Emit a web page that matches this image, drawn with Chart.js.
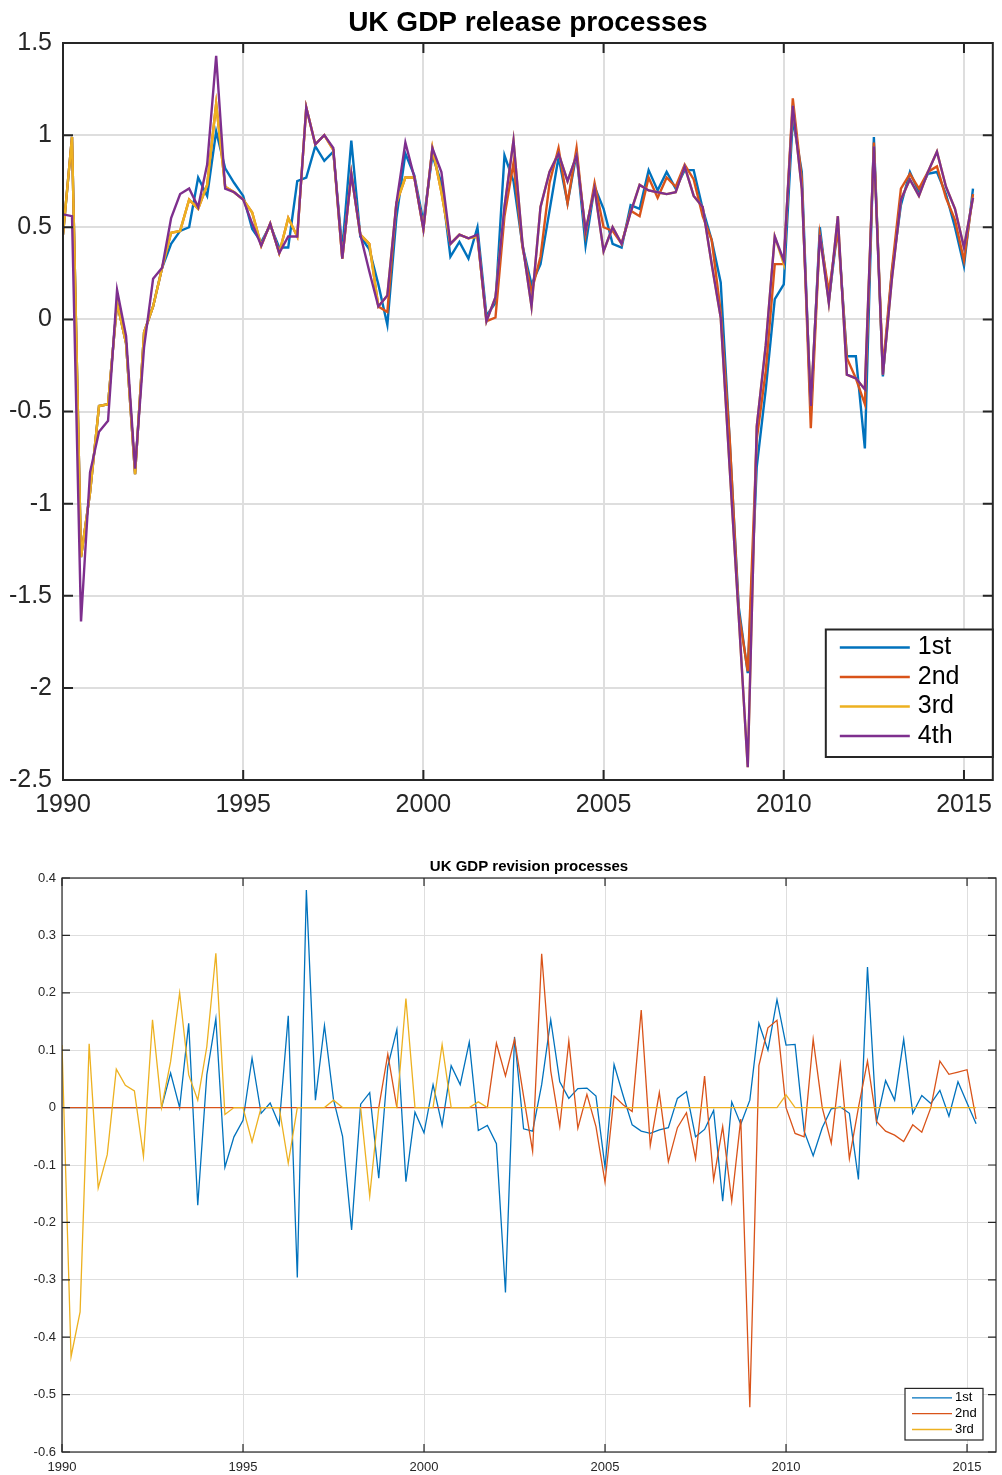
<!DOCTYPE html>
<html>
<head>
<meta charset="utf-8">
<title>UK GDP release and revision processes</title>
<script src="https://cdn.jsdelivr.net/npm/chart.js@4.4.1/dist/chart.umd.min.js"></script>
<style>
    body { margin: 0; background: #fff; width: 1002px; height: 1475px; position: relative; overflow: hidden; }
    #releaseChart { position: absolute; left: 0; top: 0; }
    #revisionChart { position: absolute; left: 0; top: 840px; }
</style>
</head>
<body>
<canvas id="releaseChart" width="1002" height="830"></canvas>
<canvas id="revisionChart" width="1002" height="635"></canvas>
<script>
// Quarterly data, first quarter 1990 Q1, one row per year
const firstYear = 1990;
const quarterStep = 0.25;

const seriesLabels = ['1st', '2nd', '3rd', '4th'];
const seriesColors = ['#0072BD', '#D95319', '#EDB120', '#7E2F8E'];

const xTickYears = [1990, 1995, 2000, 2005, 2010, 2015];
const releaseYTicks = [-2.5, -2, -1.5, -1, -0.5, 0, 0.5, 1, 1.5];
const revisionYTicks = [-0.6, -0.5, -0.4, -0.3, -0.2, -0.1, 0, 0.1, 0.2, 0.3, 0.4];

// UK GDP growth, successive releases (%)
const release1st = [
    0.46, 0.99, -1.29, -0.94,
    -0.47, -0.46, 0.09, -0.13,
    -0.84, -0.07, 0.07, 0.28,
    0.41, 0.48, 0.50, 0.77,
    0.67, 1.02, 0.82, 0.74,
    0.67, 0.49, 0.42, 0.51,
    0.39, 0.39, 0.75, 0.77,
    0.94, 0.86, 0.91, 0.38,
    0.97, 0.45, 0.38, 0.19,
    -0.03, 0.55, 0.90, 0.78,
    0.53, 0.89, 0.74, 0.34,
    0.42, 0.33, 0.50, 0.02,
    0.09, 0.89, 0.75, 0.40,
    0.19, 0.30, 0.59, 0.88,
    0.63, 0.90, 0.40, 0.72,
    0.60, 0.41, 0.39, 0.62,
    0.60, 0.81, 0.70, 0.80,
    0.71, 0.81, 0.81, 0.60,
    0.43, 0.20, -0.66, -1.56,
    -1.92, -0.80, -0.38, 0.11,
    0.19, 1.09, 0.80, -0.51,
    0.50, 0.10, 0.50, -0.20,
    -0.20, -0.70, 0.99, -0.31,
    0.26, 0.62, 0.80, 0.69,
    0.79, 0.80, 0.68, 0.50,
    0.29, 0.71
];

const release2nd = [
    0.46, 0.99, -1.29, -0.94,
    -0.47, -0.46, 0.09, -0.13,
    -0.84, -0.07, 0.07, 0.28,
    0.47, 0.48, 0.65, 0.60,
    0.73, 1.17, 0.72, 0.69,
    0.65, 0.58, 0.40, 0.52,
    0.36, 0.55, 0.45, 1.15,
    0.95, 1.00, 0.92, 0.33,
    0.79, 0.46, 0.41, 0.07,
    0.04, 0.63, 0.77, 0.77,
    0.49, 0.93, 0.69, 0.41,
    0.46, 0.44, 0.45, -0.01,
    0.01, 0.56, 0.85, 0.39,
    0.15, 0.34, 0.74, 0.93,
    0.63, 0.93, 0.46, 0.74,
    0.50, 0.48, 0.41, 0.59,
    0.56, 0.77, 0.66, 0.77,
    0.72, 0.84, 0.76, 0.56,
    0.43, 0.04, -0.65, -1.59,
    -1.91, -0.65, -0.28, 0.30,
    0.30, 1.20, 0.76, -0.59,
    0.46, 0.15, 0.49, -0.21,
    -0.32, -0.46, 0.96, -0.27,
    0.27, 0.71, 0.79, 0.71,
    0.80, 0.83, 0.66, 0.54,
    0.32, 0.68
];

const release3rd = [
    0.46, 0.99, -1.29, -0.94,
    -0.47, -0.46, 0.09, -0.13,
    -0.84, -0.07, 0.07, 0.28,
    0.47, 0.48, 0.65, 0.60,
    0.73, 1.17, 0.72, 0.69,
    0.65, 0.58, 0.40, 0.52,
    0.36, 0.55, 0.45, 1.15,
    0.95, 1.00, 0.92, 0.33,
    0.79, 0.46, 0.41, 0.07,
    0.13, 0.63, 0.77, 0.77,
    0.49, 0.93, 0.69, 0.41,
    0.46, 0.44, 0.45, -0.01,
    0.12, 0.61, 0.97, 0.41,
    0.07, 0.61, 0.80, 0.90,
    0.75, 0.89, 0.48, 0.71,
    0.37, 0.50, 0.41, 0.58,
    0.73, 0.70, 0.69, 0.68,
    0.69, 0.83, 0.67, 0.61,
    0.30, 0.01, -0.81, -1.61,
    -2.43, -0.58, -0.14, 0.45,
    0.30, 1.16, 0.71, -0.47,
    0.46, 0.09, 0.56, -0.30,
    -0.32, -0.38, 0.94, -0.30,
    0.22, 0.65, 0.76, 0.67,
    0.80, 0.91, 0.72, 0.60,
    0.39, 0.66
];

const release4th = [
    0.57, 0.56, -1.64, -0.83,
    -0.61, -0.55, 0.16, -0.09,
    -0.81, -0.15, 0.22, 0.28,
    0.55, 0.68, 0.71, 0.61,
    0.84, 1.43, 0.71, 0.69,
    0.65, 0.52, 0.40, 0.52,
    0.36, 0.45, 0.45, 1.15,
    0.95, 1.00, 0.93, 0.33,
    0.79, 0.46, 0.26, 0.07,
    0.13, 0.63, 0.96, 0.77,
    0.49, 0.93, 0.80, 0.41,
    0.46, 0.44, 0.46, -0.01,
    0.12, 0.61, 0.97, 0.41,
    0.07, 0.61, 0.80, 0.90,
    0.75, 0.89, 0.48, 0.71,
    0.37, 0.50, 0.41, 0.58,
    0.73, 0.70, 0.69, 0.68,
    0.69, 0.83, 0.67, 0.61,
    0.30, 0.01, -0.81, -1.61,
    -2.43, -0.58, -0.14, 0.45,
    0.32, 1.16, 0.71, -0.47,
    0.46, 0.09, 0.56, -0.30,
    -0.32, -0.38, 0.94, -0.30,
    0.22, 0.65, 0.76, 0.67,
    0.80, 0.91, 0.72, 0.60,
    0.39, 0.66
];

// Revisions between successive releases
const revision1st = [
    0, 0, 0, 0,
    0, 0, 0, 0,
    0, 0, 0, 0,
    0.06, 0, 0.147, -0.17,
    0.057, 0.155, -0.104, -0.051,
    -0.022, 0.086, -0.01, 0.008,
    -0.03, 0.16, -0.296, 0.379,
    0.013, 0.143, 0.014, -0.05,
    -0.213, 0.006, 0.026, -0.123,
    0.072, 0.136, -0.129, -0.008,
    -0.044, 0.04, -0.031, 0.073,
    0.04, 0.114, -0.04, -0.031,
    -0.063, -0.322, 0.123, -0.037,
    -0.041, 0.04, 0.153, 0.045,
    0.016, 0.033, 0.034, 0.02,
    -0.104, 0.075, 0.021, -0.03,
    -0.041, -0.045, -0.039, -0.035,
    0.016, 0.028, -0.051, -0.038,
    -0.005, -0.163, 0.01, -0.029,
    0.013, 0.147, 0.1, 0.188,
    0.109, 0.11, -0.041, -0.084,
    -0.035, -0.002, 0.001, -0.01,
    -0.125, 0.245, -0.025, 0.047,
    0.013, 0.119, -0.01, 0.021,
    0.007, 0.03, -0.015, 0.045,
    0.008, -0.028
];

const revision2nd = [
    0, 0, 0, 0,
    0, 0, 0, 0,
    0, 0, 0, 0,
    0, 0, 0, 0,
    0, 0, 0, 0,
    0, 0, 0, 0,
    0, 0, 0, 0,
    0, 0, 0, 0,
    0, 0, 0, 0,
    0.093, 0, 0, 0,
    0, 0, 0, 0,
    0, 0, 0, 0,
    0.112, 0.055, 0.119, 0.02,
    -0.076, 0.268, 0.064, -0.033,
    0.116, -0.036, 0.023, -0.033,
    -0.13, 0.02, 0.005, -0.007,
    0.17, -0.066, 0.026, -0.094,
    -0.035, -0.009, -0.089, 0.055,
    -0.126, -0.033, -0.163, -0.02,
    -0.522, 0.073, 0.139, 0.152,
    0, -0.045, -0.051, 0.119,
    0, -0.062, 0.075, -0.089,
    0, 0.081, -0.024, -0.041,
    -0.048, -0.059, -0.03, -0.043,
    0, 0.081, 0.058, 0.062,
    0.066, -0.02
];

const revision3rd = [
    0.109, -0.434, -0.356, 0.111,
    -0.14, -0.082, 0.067, 0.039,
    0.029, -0.085, 0.153, 0,
    0.08, 0.2, 0.057, 0.013,
    0.106, 0.269, -0.012, 0,
    0, -0.06, 0, 0,
    0, -0.097, 0, 0,
    0, 0, 0.013, 0,
    0, 0, -0.154, 0,
    0, 0, 0.19, 0,
    0, 0, 0.11, 0,
    0, 0, 0.01, 0,
    0, 0, 0, 0,
    0, 0, 0, 0,
    0, 0, 0, 0,
    0, 0, 0, 0,
    0, 0, 0, 0,
    0, 0, 0, 0,
    0, 0, 0, 0,
    0, 0, 0, 0,
    0.022, 0, 0, 0,
    0, 0, 0, 0,
    0, 0, 0, 0,
    0, 0, 0, 0,
    0, 0, 0, 0,
    0, 0
];

const FONT = '"Liberation Sans", Helvetica, Arial, sans-serif';
Chart.defaults.font.family = FONT;
Chart.defaults.color = '#262626';

function toPoints(values) {
    return values.map((v, i) => ({ x: firstYear + i * quarterStep, y: v }));
}

/**
 * Draws the MATLAB-like axes box: title, frame, inward ticks and a legend in the corner
 */
function axesFramePlugin(cfg) {
    return {
        id: 'axesFrame',
        afterDraw(chart) {
            const { ctx, chartArea: a, scales } = chart;
            ctx.save();

            // title, centred over the plot area
            ctx.fillStyle = '#000';
            ctx.font = `bold ${cfg.titleSize}px ${FONT}`;
            ctx.textAlign = 'center';
            ctx.textBaseline = 'middle';
            ctx.fillText(cfg.title, (a.left + a.right) / 2, cfg.titleY);

            // frame
            ctx.strokeStyle = '#262626';
            ctx.lineWidth = cfg.frameWidth;
            ctx.strokeRect(a.left, a.top, a.right - a.left, a.bottom - a.top);

            // inward ticks on all four sides
            ctx.beginPath();
            scales.x.ticks.forEach(t => {
                const px = scales.x.getPixelForValue(t.value);
                ctx.moveTo(px, a.bottom);
                ctx.lineTo(px, a.bottom - cfg.tickLen);
                ctx.moveTo(px, a.top);
                ctx.lineTo(px, a.top + cfg.tickLen);
            });
            scales.y.ticks.forEach(t => {
                const py = scales.y.getPixelForValue(t.value);
                ctx.moveTo(a.left, py);
                ctx.lineTo(a.left + cfg.tickLen, py);
                ctx.moveTo(a.right, py);
                ctx.lineTo(a.right - cfg.tickLen, py);
            });
            ctx.stroke();

            // legend box
            const lg = cfg.legend;
            const datasets = chart.data.datasets;
            const boxH = lg.padTop + lg.rowH * (datasets.length - 1) + lg.padBottom;
            const boxRight = a.right - lg.offsetRight;
            const boxBottom = a.bottom - lg.offsetBottom;
            const boxLeft = boxRight - lg.width;
            const boxTop = boxBottom - boxH;
            ctx.fillStyle = '#fff';
            ctx.fillRect(boxLeft, boxTop, lg.width, boxH);
            ctx.lineWidth = lg.borderWidth;
            ctx.strokeStyle = '#262626';
            ctx.strokeRect(boxLeft, boxTop, lg.width, boxH);

            ctx.font = `${lg.fontSize}px ${FONT}`;
            ctx.textAlign = 'left';
            ctx.textBaseline = 'middle';
            datasets.forEach((ds, k) => {
                const y = boxTop + lg.padTop + k * lg.rowH;
                ctx.strokeStyle = ds.borderColor;
                ctx.lineWidth = ds.borderWidth;
                ctx.beginPath();
                ctx.moveTo(boxLeft + lg.lineStart, y);
                ctx.lineTo(boxLeft + lg.lineEnd, y);
                ctx.stroke();
                ctx.fillStyle = '#000';
                ctx.fillText(ds.label, boxLeft + lg.textX, y);
            });

            ctx.restore();
        }
    };
}

function buildOptions(opt) {
    return {
        responsive: false,
        animation: false,
        devicePixelRatio: 1,
        layout: { padding: { top: opt.padTop, right: opt.padRight, left: 0, bottom: 0 } },
        plugins: {
            legend: { display: false },
            title: { display: false },
            tooltip: { enabled: false }
        },
        elements: {
            point: { radius: 0, hoverRadius: 0 },
            line: { tension: 0, borderJoinStyle: 'miter', borderCapStyle: 'butt' }
        },
        scales: {
            x: {
                type: 'linear',
                min: 1990,
                max: 2015.8,
                afterBuildTicks: (axis) => { axis.ticks = xTickYears.map(v => ({ value: v })); },
                afterFit: (axis) => { axis.height = opt.xAxisHeight; },
                grid: { color: '#dedede', lineWidth: opt.gridWidth, drawTicks: false },
                border: { display: false },
                ticks: {
                    font: { size: opt.tickSize },
                    color: '#262626',
                    padding: opt.xTickPad,
                    maxRotation: 0,
                    callback: (v) => String(v)
                }
            },
            y: {
                type: 'linear',
                min: opt.yTicks[0],
                max: opt.yTicks[opt.yTicks.length - 1],
                afterBuildTicks: (axis) => { axis.ticks = opt.yTicks.map(v => ({ value: v })); },
                afterFit: (axis) => { axis.width = opt.yAxisWidth; },
                grid: { color: '#dedede', lineWidth: opt.gridWidth, drawTicks: false },
                border: { display: false },
                ticks: {
                    font: { size: opt.tickSize },
                    color: '#262626',
                    padding: opt.yTickPad,
                    callback: (v) => String(v)
                }
            }
        }
    };
}

function makeDatasets(seriesList, width) {
    const n = seriesList.length;
    return seriesList.map((values, k) => ({
        label: seriesLabels[k],
        data: toPoints(values),
        borderColor: seriesColors[k],
        backgroundColor: seriesColors[k],
        borderWidth: width,
        fill: false,
        order: n - k   // later series drawn on top
    }));
}

// Top panel: release processes
new Chart(document.getElementById('releaseChart').getContext('2d'), {
    type: 'line',
    data: { datasets: makeDatasets([release1st, release2nd, release3rd, release4th], 2.4) },
    options: buildOptions({
        padTop: 43, padRight: 7, xAxisHeight: 50, yAxisWidth: 63,
        gridWidth: 2, tickSize: 25, xTickPad: 10, yTickPad: 11,
        yTicks: releaseYTicks
    }),
    plugins: [axesFramePlugin({
        title: 'UK GDP release processes', titleSize: 28, titleY: 23,
        frameWidth: 2, tickLen: 10,
        legend: {
            width: 167, offsetRight: 0, offsetBottom: 23,
            padTop: 18, rowH: 29.5, padBottom: 21,
            lineStart: 14, lineEnd: 84, textX: 92,
            fontSize: 25, borderWidth: 2
        }
    })]
});

// Bottom panel: revision processes
new Chart(document.getElementById('revisionChart').getContext('2d'), {
    type: 'line',
    data: { datasets: makeDatasets([revision1st, revision2nd, revision3rd], 1.3) },
    options: buildOptions({
        padTop: 38, padRight: 6, xAxisHeight: 23, yAxisWidth: 62,
        gridWidth: 1, tickSize: 13, xTickPad: 8, yTickPad: 6,
        yTicks: revisionYTicks
    }),
    plugins: [axesFramePlugin({
        title: 'UK GDP revision processes', titleSize: 15, titleY: 27,
        frameWidth: 1.2, tickLen: 8,
        legend: {
            width: 78, offsetRight: 13, offsetBottom: 12,
            padTop: 9.5, rowH: 15.8, padBottom: 10.5,
            lineStart: 7, lineEnd: 47, textX: 50,
            fontSize: 13, borderWidth: 1.2
        }
    })]
});
</script>
</body>
</html>
